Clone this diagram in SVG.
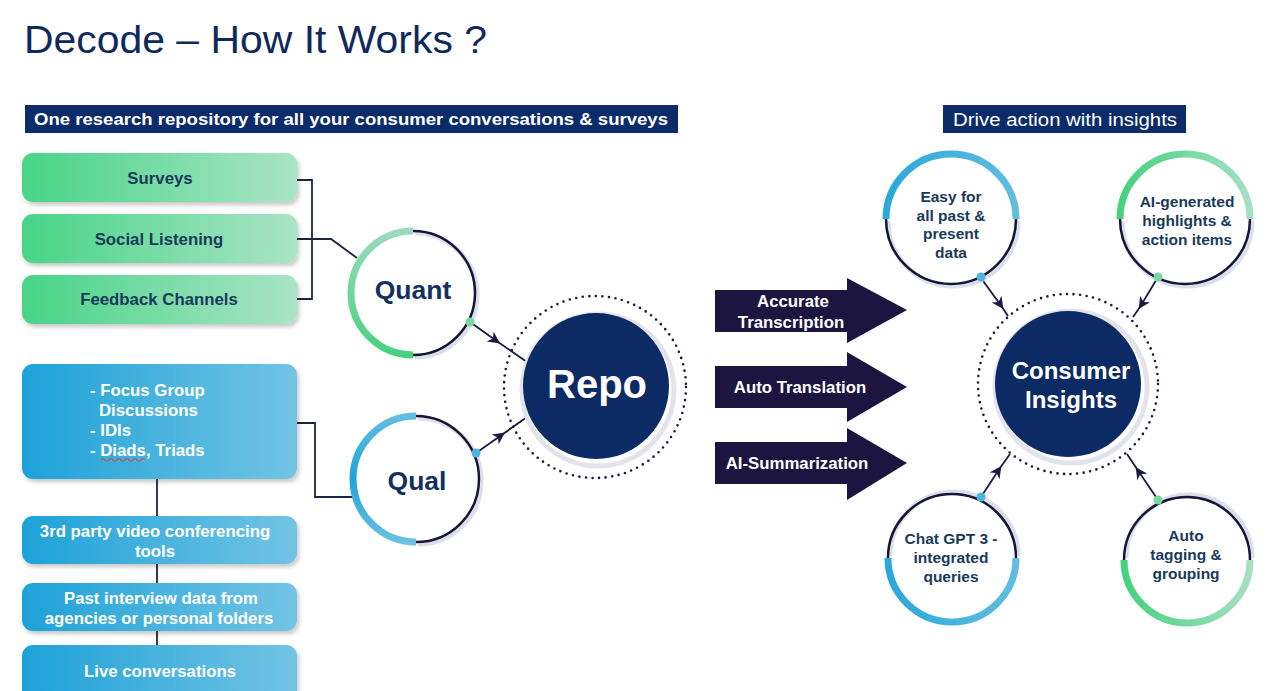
<svg xmlns="http://www.w3.org/2000/svg" width="1280" height="691" viewBox="0 0 1280 691">
<defs>
<linearGradient id="gGreen" x1="0" y1="0" x2="1" y2="0"><stop offset="0" stop-color="#48d487"/><stop offset="1" stop-color="#a9e4c6"/></linearGradient>
<linearGradient id="gBlue" x1="0" y1="0" x2="1" y2="0"><stop offset="0" stop-color="#1ea2d8"/><stop offset="1" stop-color="#72c4e4"/></linearGradient>
<linearGradient id="arcGreenV" x1="0" y1="0" x2="0" y2="1"><stop offset="0" stop-color="#9adbbd"/><stop offset="1" stop-color="#45d27e"/></linearGradient>
<linearGradient id="arcBlueV" x1="0" y1="0" x2="0" y2="1"><stop offset="0" stop-color="#62bde0"/><stop offset="0.5" stop-color="#1ea6d8"/><stop offset="1" stop-color="#6cc0e0"/></linearGradient>
<linearGradient id="arcBlueH" x1="0" y1="0" x2="1" y2="0"><stop offset="0" stop-color="#2aa8da"/><stop offset="1" stop-color="#62bde0"/></linearGradient>
<linearGradient id="arcGreenH" x1="0" y1="0" x2="1" y2="0"><stop offset="0" stop-color="#45d27e"/><stop offset="1" stop-color="#a6dfc4"/></linearGradient>
<filter id="sh" x="-10%" y="-20%" width="120%" height="150%"><feDropShadow dx="2" dy="3" stdDeviation="2" flood-color="#000" flood-opacity="0.22"/></filter>
<marker id="ah" viewBox="0 0 10 10" refX="8" refY="5" markerWidth="12" markerHeight="12" markerUnits="userSpaceOnUse" orient="auto"><path d="M0,0 L10,5 L0,10 L3,5 Z" fill="#1b1a45"/></marker>
<style>
.title{font-family:"Liberation Sans",Arial,sans-serif;font-size:38px;fill:#0e2a5c}
.ban{fill:#0c2c69}
.bant{font-family:"Liberation Sans",Arial,sans-serif;fill:#fff}
.gt{font-family:"Liberation Sans",Arial,sans-serif;font-weight:bold;font-size:16.8px;fill:#1a3a5a;text-anchor:middle}
.bt{font-family:"Liberation Sans",Arial,sans-serif;font-weight:bold;font-size:16.8px;fill:#fff}
.btc{text-anchor:middle}
.ct{font-family:"Liberation Sans",Arial,sans-serif;font-weight:bold;font-size:26.5px;fill:#14305e;text-anchor:middle}
.big{font-family:"Liberation Sans",Arial,sans-serif;font-weight:bold;fill:#fff;text-anchor:middle}
.st{font-family:"Liberation Sans",Arial,sans-serif;font-weight:bold;font-size:15.5px;fill:#1a3a5a;text-anchor:middle}
.at{font-family:"Liberation Sans",Arial,sans-serif;font-weight:bold;font-size:16.8px;fill:#fff;text-anchor:middle}
.conn{fill:none;stroke:#1a2540;stroke-width:1.8}
.arr{fill:none;stroke:#1b1a45;stroke-width:1.8}
.thin{fill:none;stroke:#15143a;stroke-width:2.5}
.halo{fill:none;stroke:#dcdfe8;stroke-width:5}
.dots{fill:none;stroke:#1a1a3a;stroke-width:2.6;stroke-linecap:round;stroke-dasharray:0 6.6}
.hub{fill:#0c2a63}
.chev{fill:#1b1540}
</style>
</defs>
<rect width="1280" height="691" fill="#fff"/>

<g id="title"><text class="title" x="24" y="53" textLength="463" lengthAdjust="spacingAndGlyphs">Decode – How It Works ?</text></g>

<g id="banner-left"><rect class="ban" x="25" y="105" width="653" height="28"/><text class="bant" x="351" y="125" font-weight="bold" font-size="17" text-anchor="middle" textLength="634" lengthAdjust="spacingAndGlyphs">One research repository for all your consumer conversations &amp; surveys</text></g>
<g id="banner-right"><rect class="ban" x="943" y="105" width="243" height="28"/><text class="bant" x="1065" y="126" font-size="18" text-anchor="middle" textLength="224" lengthAdjust="spacingAndGlyphs">Drive action with insights</text></g>

<g id="connectors">
<polyline class="conn" points="296,180 312,180 312,299 296,299"/>
<polyline class="conn" points="296,239 331,239 357,258"/>
<polyline class="conn" points="297,423 315,423 315,497 353,497"/>
<line class="conn" x1="157" y1="479" x2="157" y2="516"/>
<line class="conn" x1="157" y1="564" x2="157" y2="583"/>
<line class="conn" x1="157" y1="631" x2="157" y2="645"/>
<polyline class="arr" points="470,322 498,342 527,362" marker-mid="url(#ah)"/>
<polyline class="arr" points="476,453 503,434 527,417" marker-mid="url(#ah)"/>
<polyline class="arr" points="981,278 1002,307 1008,316" marker-mid="url(#ah)"/>
<polyline class="arr" points="1158,277 1140,307 1133,317" marker-mid="url(#ah)"/>
<polyline class="arr" points="981,497 1000,468 1010,454" marker-mid="url(#ah)"/>
<polyline class="arr" points="1158,500 1137,469 1127,454" marker-mid="url(#ah)"/>
</g>

<g id="surveys"><rect x="22" y="153" width="275" height="49" rx="11" fill="url(#gGreen)" filter="url(#sh)"/><text class="gt" x="160" y="184">Surveys</text></g>
<g id="social-listening"><rect x="22" y="214" width="275" height="49" rx="11" fill="url(#gGreen)" filter="url(#sh)"/><text class="gt" x="159" y="245">Social Listening</text></g>
<g id="feedback-channels"><rect x="22" y="275" width="275" height="49" rx="11" fill="url(#gGreen)" filter="url(#sh)"/><text class="gt" x="159" y="305">Feedback Channels</text></g>

<g id="qual-sources"><rect x="22" y="364" width="275" height="115" rx="11" fill="url(#gBlue)" filter="url(#sh)"/>
<text class="bt" x="90" y="396">- Focus Group</text>
<text class="bt" x="99" y="416">Discussions</text>
<text class="bt" x="90" y="436">- IDIs</text>
<text class="bt" x="90" y="456">- Diads, Triads</text>
<path d="M101,460 q2,-2.5 4,0 t4,0 t4,0 t4,0 t4,0 t4,0 t4,0 t4,0 t4,0 t4,0 t4,0" fill="none" stroke="#e0403a" stroke-width="1.1"/>
</g>
<g id="video-tools"><rect x="22" y="516" width="275" height="48" rx="11" fill="url(#gBlue)" filter="url(#sh)"/><text class="bt btc" x="155" y="537">3rd party video conferencing</text><text class="bt btc" x="155" y="557">tools</text></g>
<g id="past-data"><rect x="22" y="583" width="275" height="48" rx="11" fill="url(#gBlue)" filter="url(#sh)"/><text class="bt btc" x="161" y="604">Past interview data from</text><text class="bt btc" x="159" y="624">agencies or personal folders</text></g>
<g id="live"><rect x="22" y="645" width="275" height="60" rx="11" fill="url(#gBlue)" filter="url(#sh)"/><text class="bt btc" x="160" y="677">Live conversations</text></g>

<g id="quant">
<circle cx="413" cy="293" r="62" fill="#fff"/>
<path class="halo" d="M415,233 A62,62 0 0 1 415,357"/>
<path class="thin" d="M413,231 A62,62 0 0 1 413,355"/>
<path d="M413,231 A62,62 0 0 0 413,355" fill="none" stroke="url(#arcGreenV)" stroke-width="7"/>
<circle cx="470" cy="322" r="4.5" fill="#79d7a3"/>
<text class="ct" x="413" y="299">Quant</text>
</g>
<g id="qual">
<circle cx="416" cy="479" r="63" fill="#fff"/>
<path class="halo" d="M418,418 A63,63 0 0 1 418,544"/>
<path class="thin" d="M416,416 A63,63 0 0 1 416,542"/>
<path d="M416,416 A63,63 0 0 0 416,542" fill="none" stroke="url(#arcBlueV)" stroke-width="7"/>
<circle cx="476" cy="453" r="4.5" fill="#4fb4dc"/>
<text class="ct" x="417" y="490">Qual</text>
</g>

<g id="repo">
<circle class="dots" cx="595" cy="387" r="91"/>
<circle cx="598" cy="390" r="76" fill="none" stroke="#e2e4ea" stroke-width="5"/>
<circle class="hub" cx="596" cy="386" r="73"/>
<text class="big" x="597" y="398" font-size="40">Repo</text>
</g>

<g id="accurate-transcription"><polygon class="chev" points="715,290 847,290 847,278 907,310 847,343 847,332 715,332"/><text class="at" x="793" y="307">Accurate</text><text class="at" x="791" y="328">Transcription</text></g>
<g id="auto-translation"><polygon class="chev" points="715,366 847,366 847,352 907,387 847,422 847,408 715,408"/><text class="at" x="800" y="393">Auto Translation</text></g>
<g id="ai-summarization"><polygon class="chev" points="715,442 847,442 847,428 907,463 847,500 847,484 715,484"/><text class="at" x="797" y="469">AI-Summarization</text></g>

<g id="consumer-insights">
<circle class="dots" cx="1068" cy="384" r="90"/>
<circle cx="1071" cy="387" r="76" fill="none" stroke="#e2e4ea" stroke-width="5"/>
<circle class="hub" cx="1068" cy="384" r="73"/>
<text class="big" x="1071" y="379" font-size="24">Consumer</text>
<text class="big" x="1071" y="408" font-size="24">Insights</text>
</g>

<g id="easy">
<circle cx="951" cy="219" r="65" fill="#fff"/>
<path class="halo" d="M888,221 A65,65 0 0 0 1018,221"/>
<path class="thin" d="M886,219 A65,65 0 0 0 1016,219"/>
<path d="M886,219 A65,65 0 0 1 1016,219" fill="none" stroke="url(#arcBlueH)" stroke-width="7"/>
<circle cx="981" cy="277" r="4.5" fill="#4fb4dc"/>
<text class="st" x="951" y="202">Easy for</text><text class="st" x="951" y="221">all past &amp;</text><text class="st" x="951" y="239">present</text><text class="st" x="951" y="258">data</text>
</g>
<g id="ai-generated">
<circle cx="1185" cy="219" r="65" fill="#fff"/>
<path class="halo" d="M1122,221 A65,65 0 0 0 1252,221"/>
<path class="thin" d="M1120,219 A65,65 0 0 0 1250,219"/>
<path d="M1120,219 A65,65 0 0 1 1250,219" fill="none" stroke="url(#arcGreenH)" stroke-width="7"/>
<circle cx="1158" cy="277" r="4.5" fill="#79d7a3"/>
<text class="st" x="1187" y="207">AI-generated</text><text class="st" x="1187" y="226">highlights &amp;</text><text class="st" x="1187" y="245">action items</text>
</g>
<g id="chatgpt">
<circle cx="952" cy="558" r="64" fill="#fff"/>
<path class="halo" d="M890,556 A64,64 0 0 1 1018,556"/>
<path class="thin" d="M888,558 A64,64 0 0 1 1016,558"/>
<path d="M888,558 A64,64 0 0 0 1016,558" fill="none" stroke="url(#arcBlueH)" stroke-width="7"/>
<circle cx="981" cy="497" r="4.5" fill="#4fb4dc"/>
<text class="st" x="951" y="544">Chat GPT 3 -</text><text class="st" x="951" y="563">integrated</text><text class="st" x="951" y="582">queries</text>
</g>
<g id="auto-tagging">
<circle cx="1187" cy="560" r="63" fill="#fff"/>
<path class="halo" d="M1126,558 A63,63 0 0 1 1252,558"/>
<path class="thin" d="M1124,560 A63,63 0 0 1 1250,560"/>
<path d="M1124,560 A63,63 0 0 0 1250,560" fill="none" stroke="url(#arcGreenH)" stroke-width="7"/>
<circle cx="1158" cy="500" r="4.5" fill="#79d7a3"/>
<text class="st" x="1186" y="541">Auto</text><text class="st" x="1186" y="560">tagging &amp;</text><text class="st" x="1186" y="579">grouping</text>
</g>
</svg>
